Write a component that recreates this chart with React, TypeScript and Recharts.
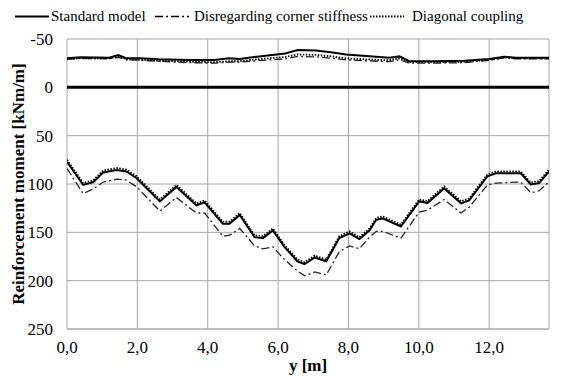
import React from 'react'
import {
  LineChart,
  Line,
  XAxis,
  YAxis,
  CartesianGrid,
  ReferenceLine,
  Legend,
} from 'recharts'

const font = "'Liberation Serif', 'Times New Roman', 'DejaVu Serif', serif"

// lower branch (positive moments)
const lowerX = [
  0, 0.46, 0.75, 1.03, 1.41, 1.69, 1.98, 2.64, 3.11, 3.68, 3.91, 4.43, 4.62, 4.91, 5.33, 5.57, 5.85, 6.18,
  6.55, 6.75, 7.04, 7.37, 7.74, 8.03, 8.31, 8.6, 8.79, 8.97, 9.49, 10.01, 10.25, 10.72, 11.2, 11.43, 11.95,
  12.19, 12.9, 13.18, 13.42, 13.7,
]
const standardLower = [
  77, 101, 98, 88, 85.6, 87, 94, 118, 103, 122, 119, 141, 141, 132, 155, 156, 148, 165, 180, 183, 176, 180,
  156, 151, 157, 148, 137, 135.6, 144, 118, 119.5, 104.6, 120, 117, 92, 89, 89, 100.4, 99, 87,
]
const cornerLower = [
  84, 110, 105, 98, 95, 96, 103, 128, 114, 130, 130, 154, 153, 146, 164, 167, 165, 178, 190, 195, 191, 194,
  170, 164, 167, 155, 149, 149, 156, 129, 127, 116, 130, 124, 101, 99, 98, 109, 107, 98,
]
const diagonalLower = [
  75, 99, 96, 86, 83.5, 85, 92, 116, 101, 120, 117, 139, 139, 130, 153, 154, 146, 163, 178, 181, 174, 178,
  154, 149, 155, 146, 135, 133.5, 142, 116, 117.5, 102.5, 118, 115, 90, 87, 87, 98.5, 97, 85,
]

// upper branch (negative moments)
const upperX = [
  0, 0.4, 1.2, 1.46, 1.7, 2.1, 2.6, 3.5, 4.2, 4.6, 4.9, 5.4, 6.2, 6.56, 7.08, 7.55, 7.93, 8.5, 9.16, 9.45,
  9.73, 10.4, 11.3, 12.0, 12.43, 12.75, 13.7,
]
const standardUpper = [
  -30, -31, -30.6, -33.4, -30, -30, -29, -28.3, -28.3, -30, -29.3, -31.7, -35, -38.6, -38, -36, -34, -32.4,
  -30.6, -32, -27, -27, -27.5, -29.3, -31.7, -30.6, -30.6,
]
const cornerUpper = [
  -29, -30, -29.5, -31, -28.5, -28, -27, -25.5, -25, -26, -26, -27.5, -29.5, -32, -31.5, -30, -28.5, -27.5,
  -26.5, -28.5, -25, -25, -25.5, -28, -30.5, -29.5, -29.5,
]
const diagonalUpper = [
  -29.5, -30, -30, -32, -29, -28.5, -27.5, -26.5, -26, -27, -27, -29, -31.5, -34, -33.5, -32, -30, -29, -28,
  -30, -26, -26, -26.5, -28.5, -31, -30, -30,
]

const xTicks = [0, 2, 4, 6, 8, 10, 12]
const yTicks = [-50, 0, 50, 100, 150, 200, 250]

const lowerRows = lowerX.map((x, i) => ({
  x,
  standard: standardLower[i],
  corner: cornerLower[i],
  diagonal: diagonalLower[i],
}))
const upperRows = upperX.map((x, i) => ({
  x,
  standard: standardUpper[i],
  corner: cornerUpper[i],
  diagonal: diagonalUpper[i],
}))

const DASHDOT = '8 3 2 3'
const DOTTED = '1.5 1.5'

function LegendBox() {
  const item = (left: number, dash: string | undefined, w: number, label: string, textLeft: number) => (
    <>
      <svg style={{ position: 'absolute', left, top: 0 }} width={36} height={20}>
        <line x1={0} x2={34} y1={10.5} y2={10.5} stroke="#000" strokeWidth={w} strokeDasharray={dash} />
      </svg>
      <span style={{ position: 'absolute', left: textLeft, top: 0, lineHeight: '20px', whiteSpace: 'nowrap' }}>
        {label}
      </span>
    </>
  )
  return (
    <div style={{ position: 'relative', height: 20, width: 566, fontFamily: font, fontSize: 15, color: '#000' }}>
      {item(15, undefined, 2, 'Standard model', 51)}
      {item(155, DASHDOT, 1.3, 'Disregarding corner stiffness', 194)}
      {item(370, DOTTED, 1.8, 'Diagonal coupling', 412)}
    </div>
  )
}

export default function App() {
  return (
    <div style={{ position: 'absolute', left: 0, top: 0, background: '#fff', fontFamily: font }}>
      <LineChart width={566} height={376} margin={{ top: 19, right: 17, bottom: 0, left: 0 }}>
        <CartesianGrid stroke="#a6a6a6" strokeWidth={1} />
        <XAxis
          dataKey="x"
          type="number"
          domain={[0, 13.7]}
          allowDataOverflow
          ticks={xTicks}
          tickFormatter={(v: number) => v.toFixed(1).replace('.', ',')}
          tickLine={false}
          axisLine={{ stroke: '#a6a6a6' }}
          tickMargin={6}
          height={47}
          tick={{ fill: '#000', fontFamily: font, fontSize: 17 }}
          label={{
            value: 'y [m]',
            position: 'insideBottom',
            offset: 5,
            style: { fill: '#000', fontFamily: font, fontSize: 17, fontWeight: 'bold' },
          }}
        />
        <YAxis
          type="number"
          reversed
          domain={[-50, 250]}
          ticks={yTicks}
          tickLine={false}
          axisLine={false}
          tickMargin={8}
          width={67}
          tick={{ fill: '#000', fontFamily: font, fontSize: 17 }}
          label={{
            value: 'Reinforcement moment [kNm/m]',
            angle: -90,
            position: 'insideLeft',
            offset: 18,
            style: { fill: '#000', fontFamily: font, fontSize: 17, fontWeight: 'bold', textAnchor: 'middle' },
          }}
        />
        <Legend verticalAlign="top" wrapperStyle={{ left: 0, top: 6, width: 566 }} content={() => <LegendBox />} />
        <ReferenceLine y={0} stroke="#000" strokeWidth={3} />
        <Line data={upperRows} dataKey="corner" stroke="#222" strokeWidth={1.3} strokeDasharray={DASHDOT} dot={false} isAnimationActive={false} />
        <Line data={upperRows} dataKey="diagonal" stroke="#000" strokeWidth={1.8} strokeDasharray={DOTTED} dot={false} isAnimationActive={false} />
        <Line data={upperRows} dataKey="standard" stroke="#000" strokeWidth={2} dot={false} isAnimationActive={false} />
        <Line data={lowerRows} dataKey="corner" stroke="#222" strokeWidth={1.3} strokeDasharray={DASHDOT} dot={false} isAnimationActive={false} />
        <Line data={lowerRows} dataKey="diagonal" stroke="#000" strokeWidth={1.8} strokeDasharray={DOTTED} dot={false} isAnimationActive={false} />
        <Line data={lowerRows} dataKey="standard" stroke="#000" strokeWidth={2} dot={false} isAnimationActive={false} />
      </LineChart>
    </div>
  )
}
